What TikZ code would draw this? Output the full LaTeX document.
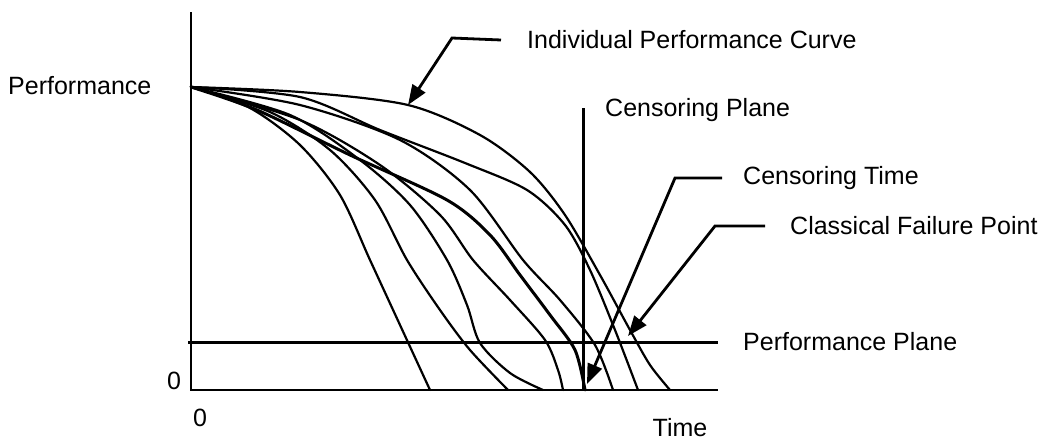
\documentclass[tikz,border=0pt]{standalone}
\usepackage{fontspec}
\setmainfont{Liberation Sans}
\usetikzlibrary{arrows.meta}
\begin{document}
\begin{tikzpicture}[x=1pt,y=-1pt,
  txt/.style={font=\fontsize{25}{28}\selectfont, inner sep=0pt},
  lbl/.style={txt, anchor=west},
  curve/.style={line width=2.2pt, line join=round, line cap=round},
  axis/.style={line width=2.6pt},
  plane/.style={line width=3pt},
  leader/.style={line width=2.8pt, line join=miter, -{Triangle[length=20pt,width=15pt]}},
]
\useasboundingbox (0,0) rectangle (1051,442);
% axes
\coordinate (ytop) at (191,12);
\coordinate (orig) at (191,390);
\coordinate (xend) at (718,390);
\draw[axis] (ytop) -- (orig) -- (xend);
% performance plane
\coordinate (pp0) at (188,342);
\coordinate (pp1) at (718,342);
\draw[plane] (pp0) -- (pp1);
% censoring plane
\coordinate (cp0) at (583,108);
\coordinate (cp1) at (583,390);
\draw[plane] (cp0) -- (cp1);
% curves
\draw[curve] plot[smooth] coordinates {(191,87) (300,92) (408,105) (480,135) (530,172) (565,215) (600,275) (630,330) (650,365) (670,390)};
\draw[curve] plot[smooth] coordinates {(191,87) (300,97) (380,130) (465,163) (527,190) (565,225) (590,270) (615,330) (638,390)};
\draw[curve] plot[smooth] coordinates {(191,87) (300,105) (400,140) (470,190) (523,260) (560,300) (595,345) (613,390)};
\draw[curve, line width=3pt] plot[smooth] coordinates {(191,87) (257,110) (350,155) (447,200) (490,235) (520,275) (550,315) (575,350) (585,390)};
\draw[curve] plot[smooth] coordinates {(191,87) (300,120) (380,165) (440,215) (473,260) (510,300) (545,340) (558,370) (563,390)};
\draw[curve] plot[smooth] coordinates {(191,87) (290,115) (360,160) (410,205) (447,260) (467,305) (480,343) (510,373) (543,390)};
\draw[curve] plot[smooth] coordinates {(191,87) (270,112) (330,150) (375,200) (407,260) (440,310) (470,350) (508,390)};
\draw[curve] plot[smooth] coordinates {(191,87) (250,108) (300,145) (340,195) (370,260) (400,325) (430,390)};
% labels
\node[lbl] (perf) at (8,86) {Performance};
\node[txt] (zy) at (174,381) {0};
\node[txt] (zx) at (200,418) {0};
\node[txt] (time) at (680,428) {Time};
\node[lbl] (ipc) at (527,40) {Individual Performance Curve};
\node[lbl] (cpl) at (605,110) {Censoring Plane};
\node[lbl] (ct) at (743,178) {Censoring Time};
\node[lbl] (cfp) at (790,226) {Classical Failure Point};
\node[lbl] (ppl) at (743,342) {Performance Plane};
% leaders
\coordinate (ipcA) at (452,38);
\coordinate (ipcT) at (408,105);
\draw[leader] ([xshift=-26pt]ipc.west) -- (ipcA) -- (ipcT);
\coordinate (ctA) at (675,178);
\coordinate (ctT) at (587,384);
\draw[leader] ([xshift=-21pt]ct.west) -- (ctA) -- (ctT);
\coordinate (cfpA) at (715,226);
\coordinate (cfpT) at (628,336);
\draw[leader] ([xshift=-25pt]cfp.west) -- (cfpA) -- (cfpT);
\end{tikzpicture}
\end{document}
